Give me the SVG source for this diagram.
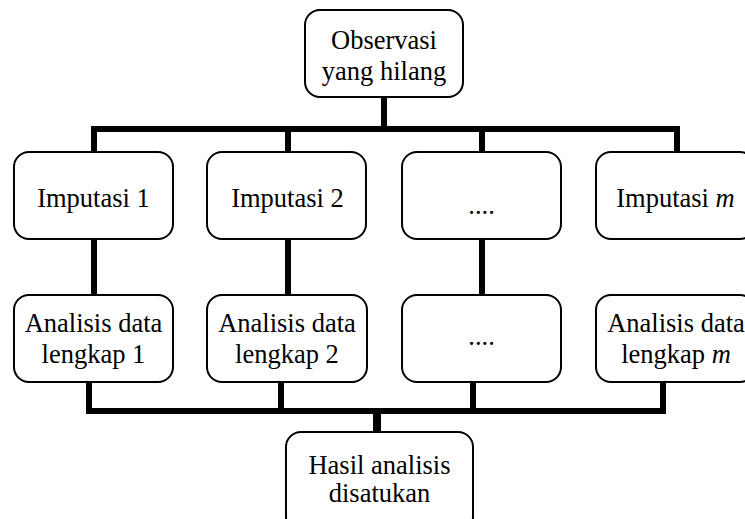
<svg xmlns="http://www.w3.org/2000/svg" width="745" height="519" viewBox="0 0 745 519">
<style>
.box{fill:#fff;stroke:#000;stroke-width:2}
.t{font-family:"Liberation Serif","Times New Roman",serif;font-size:26.5px;fill:#000;text-anchor:middle}
.c{stroke:#000;stroke-width:6;fill:none;stroke-linecap:butt}
</style>
<rect width="745" height="519" fill="#fff"/>
<g id="connectors">
<path class="c" d="M384,97V129M91,129H680M94,129V152M288,129V152M482,129V152M677,129V152"/>
<path class="c" d="M94,239V295M288,239V295M482,239V295"/>
<path class="c" d="M89,382V411M281,382V411M473,382V411M663,382V411M86,411H666"/>
<path class="c" style="stroke-width:8" d="M377,411V432"/>
</g>
<g id="observasi"><rect class="box" x="305" y="10" width="158" height="87" rx="15"/><text class="t" x="384" y="49">Observasi</text><text class="t" x="384" y="80">yang hilang</text></g>
<g id="imputasi1"><rect class="box" x="14" y="152" width="159" height="87" rx="15"/><text class="t" x="93.5" y="207">Imputasi 1</text></g>
<g id="imputasi2"><rect class="box" x="207" y="152" width="159" height="87" rx="15"/><text class="t" x="287.5" y="207">Imputasi 2</text></g>
<g id="imputasi3"><rect class="box" x="402" y="152" width="159" height="87" rx="15"/><text class="t" x="481.5" y="214">....</text></g>
<g id="imputasim"><rect class="box" x="596" y="152" width="159" height="87" rx="15"/><text class="t" x="675.5" y="207">Imputasi <tspan font-style="italic">m</tspan></text></g>
<g id="analisis1"><rect class="box" x="14" y="295" width="159" height="87" rx="15"/><text class="t" x="93.5" y="332">Analisis data</text><text class="t" x="93.5" y="363">lengkap 1</text></g>
<g id="analisis2"><rect class="box" x="207" y="295" width="160" height="87" rx="15"/><text class="t" x="287" y="332">Analisis data</text><text class="t" x="287" y="363">lengkap 2</text></g>
<g id="analisis3"><rect class="box" x="402" y="295" width="159" height="87" rx="15"/><text class="t" x="481.5" y="345">....</text></g>
<g id="analisism"><rect class="box" x="596" y="295" width="159" height="87" rx="15"/><text class="t" x="676" y="332">Analisis data</text><text class="t" x="676" y="363">lengkap <tspan font-style="italic">m</tspan></text></g>
<g id="hasil"><rect class="box" x="286" y="432" width="187" height="100" rx="15"/><text class="t" x="379.5" y="474">Hasil analisis</text><text class="t" x="379.5" y="502">disatukan</text></g>
</svg>
